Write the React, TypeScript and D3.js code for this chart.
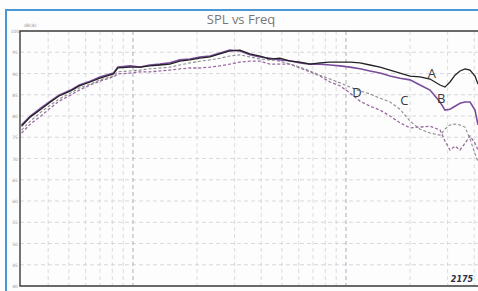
import React, { useRef, useEffect } from 'react';
import * as d3 from 'd3';

// frequency points (Hz)
const freqs = [30, 33, 37, 41, 45, 51, 56, 63, 70, 81, 85, 97, 108, 120, 134, 149, 166, 185, 206, 230, 256, 285, 318, 354, 395, 440, 490, 546, 608, 678, 755, 841, 937, 1044, 1163, 1296, 1444, 1609, 1793, 1997, 2226, 2480, 2763, 2916, 3078, 3250, 3430, 3620, 3821, 4033, 4166];

// SPL (dB) per trace
const splA = [77.6, 79.8, 81.6, 83.3, 84.7, 85.9, 87.1, 88.0, 88.9, 89.9, 91.3, 91.5, 91.5, 91.8, 92.0, 92.2, 92.9, 93.2, 93.6, 93.9, 94.6, 95.3, 95.5, 94.6, 94.1, 93.4, 93.6, 92.9, 92.7, 92.2, 92.5, 92.7, 92.7, 92.7, 92.5, 92.0, 91.5, 90.8, 90.1, 89.4, 89.2, 88.7, 87.3, 86.8, 88.0, 89.6, 90.6, 91.1, 90.8, 89.4, 87.5];
const splB = [77.9, 80.0, 81.9, 83.5, 84.9, 86.1, 87.3, 88.2, 89.2, 90.1, 91.5, 91.8, 91.5, 92.0, 92.2, 92.5, 93.2, 93.4, 93.9, 94.1, 94.8, 95.5, 95.3, 94.4, 93.9, 93.6, 93.2, 93.0, 92.5, 92.2, 92.2, 92.0, 91.8, 91.5, 91.1, 90.6, 90.1, 89.4, 88.9, 88.5, 87.3, 86.1, 83.3, 81.4, 81.6, 82.3, 83.0, 83.3, 83.3, 81.4, 77.9];
const splC = [76.7, 78.8, 80.9, 82.6, 84.0, 85.4, 86.6, 87.5, 88.5, 89.4, 90.4, 90.6, 90.8, 91.1, 91.3, 91.5, 92.0, 92.5, 92.9, 93.2, 93.6, 94.1, 94.4, 93.9, 93.4, 93.2, 92.9, 92.2, 91.5, 90.6, 89.6, 88.7, 87.8, 86.8, 85.9, 85.2, 84.2, 83.3, 81.6, 78.8, 76.9, 76.0, 75.5, 76.9, 77.9, 78.1, 77.9, 77.4, 74.6, 71.1, 69.2];
const splD = [76.0, 78.1, 80.0, 81.9, 83.5, 84.9, 86.1, 87.3, 88.2, 89.2, 89.9, 90.1, 90.4, 90.4, 90.6, 90.8, 91.1, 91.3, 91.3, 91.5, 91.8, 92.2, 92.7, 92.9, 92.9, 92.2, 92.2, 92.2, 91.3, 90.4, 89.4, 88.0, 87.1, 85.4, 83.5, 82.3, 81.4, 80.0, 78.4, 77.2, 77.4, 77.6, 76.7, 74.1, 72.0, 72.9, 72.0, 73.6, 75.3, 73.6, 72.0];

const yTicks = [100, 95, 90, 85, 80, 75, 70, 65, 60, 55, 50, 45, 40];
const xGrid = [40, 50, 60, 70, 80, 90, 100, 200, 300, 400, 500, 600, 700, 800, 900, 1000, 2000, 3000, 4000];

const traces = [
  { name: 'A', values: splA, color: '#222', width: 1.3, dash: '', label: [2530, 89.0] },
  { name: 'B', values: splB, color: '#7b4c9c', width: 1.6, dash: '', label: [2800, 83.0] },
  { name: 'C', values: splC, color: '#8c8c8c', width: 1.1, dash: '3,2', label: [1880, 82.6] },
  { name: 'D', values: splD, color: '#9a6aa0', width: 1.3, dash: '3,2', label: [1127, 84.4] },
];

const App: React.FC = () => {
  const svgRef = useRef<SVGSVGElement>(null);

  useEffect(() => {
    if (!svgRef.current) return;
    const svg = d3.select(svgRef.current);
    svg.selectAll('*').remove();

    const left = 20, top = 31, bottom = 286;
    const x = d3.scaleLog().domain([29.5, 4166]).range([left, 478]);
    const y = d3.scaleLinear().domain([40, 100]).range([bottom, top]);

    svg.append('rect').attr('width', 478).attr('height', 291).attr('fill', '#fdfdfd');

    // outer blue border
    svg.append('path')
      .attr('d', 'M6,291 L6,10 L478,10')
      .attr('fill', 'none').attr('stroke', '#4a97d6').attr('stroke-width', 2);

    svg.append('text')
      .attr('x', 241).attr('y', 24)
      .attr('text-anchor', 'middle')
      .attr('font-family', 'Open Sans, sans-serif')
      .attr('font-size', 13)
      .attr('fill', '#777')
      .text('SPL vs Freq');

    // grid
    svg.append('g').selectAll('line').data(yTicks.slice(1, -1)).enter().append('line')
      .attr('x1', left).attr('x2', 478)
      .attr('y1', d => y(d)).attr('y2', d => y(d))
      .attr('stroke', '#cfcfd5').attr('stroke-width', 0.8).attr('stroke-dasharray', '4,3');

    svg.append('g').selectAll('line').data(xGrid).enter().append('line')
      .attr('x1', d => x(d)).attr('x2', d => x(d))
      .attr('y1', top).attr('y2', bottom)
      .attr('stroke', d => (d === 100 || d === 1000 ? '#b5b5bd' : '#d3d3d9'))
      .attr('stroke-width', d => (d === 100 || d === 1000 ? 1.1 : 0.8))
      .attr('stroke-dasharray', '4,3');

    // y labels
    svg.append('g').selectAll('text').data(yTicks).enter().append('text')
      .attr('x', 15).attr('y', d => y(d) + 2)
      .attr('text-anchor', 'middle')
      .attr('font-family', 'DejaVu Sans, sans-serif')
      .attr('font-size', 4.5)
      .attr('fill', '#999')
      .text(d => d);
    svg.append('text')
      .attr('x', 24).attr('y', 27)
      .attr('font-family', 'DejaVu Sans, sans-serif')
      .attr('font-size', 4.5).attr('fill', '#999')
      .text('dB(A)');

    // frame
    svg.append('path')
      .attr('d', `M478,${top} L${left},${top} L${left},${bottom} L478,${bottom}`)
      .attr('fill', 'none').attr('stroke', '#3a3a3a').attr('stroke-width', 1.4);

    const line = d3.line<number>()
      .x((_, i) => x(freqs[i]))
      .y(d => y(d))
      .curve(d3.curveLinear);

    traces.slice().reverse().forEach(t => {
      svg.append('path')
        .datum(t.values)
        .attr('d', line)
        .attr('fill', 'none')
        .attr('stroke', t.color)
        .attr('stroke-width', t.width)
        .attr('stroke-dasharray', t.dash || null);
    });

    svg.append('g').selectAll('text').data(traces).enter().append('text')
      .attr('x', d => x(d.label[0]))
      .attr('y', d => y(d.label[1]))
      .attr('text-anchor', 'middle')
      .attr('font-family', 'Open Sans, sans-serif')
      .attr('font-size', 13)
      .attr('fill', '#3a3a3a')
      .text(d => d.name);

    svg.append('text')
      .attr('x', 462).attr('y', 282)
      .attr('text-anchor', 'middle')
      .attr('font-family', 'DejaVu Sans, sans-serif')
      .attr('font-style', 'italic').attr('font-weight', 'bold')
      .attr('font-size', 8)
      .attr('fill', '#2b2f45')
      .text('2175');
  }, []);

  return (
    <svg ref={svgRef} width={478} height={291}
      style={{ position: 'absolute', left: 0, top: 0, display: 'block' }} />
  );
};

export default App;
